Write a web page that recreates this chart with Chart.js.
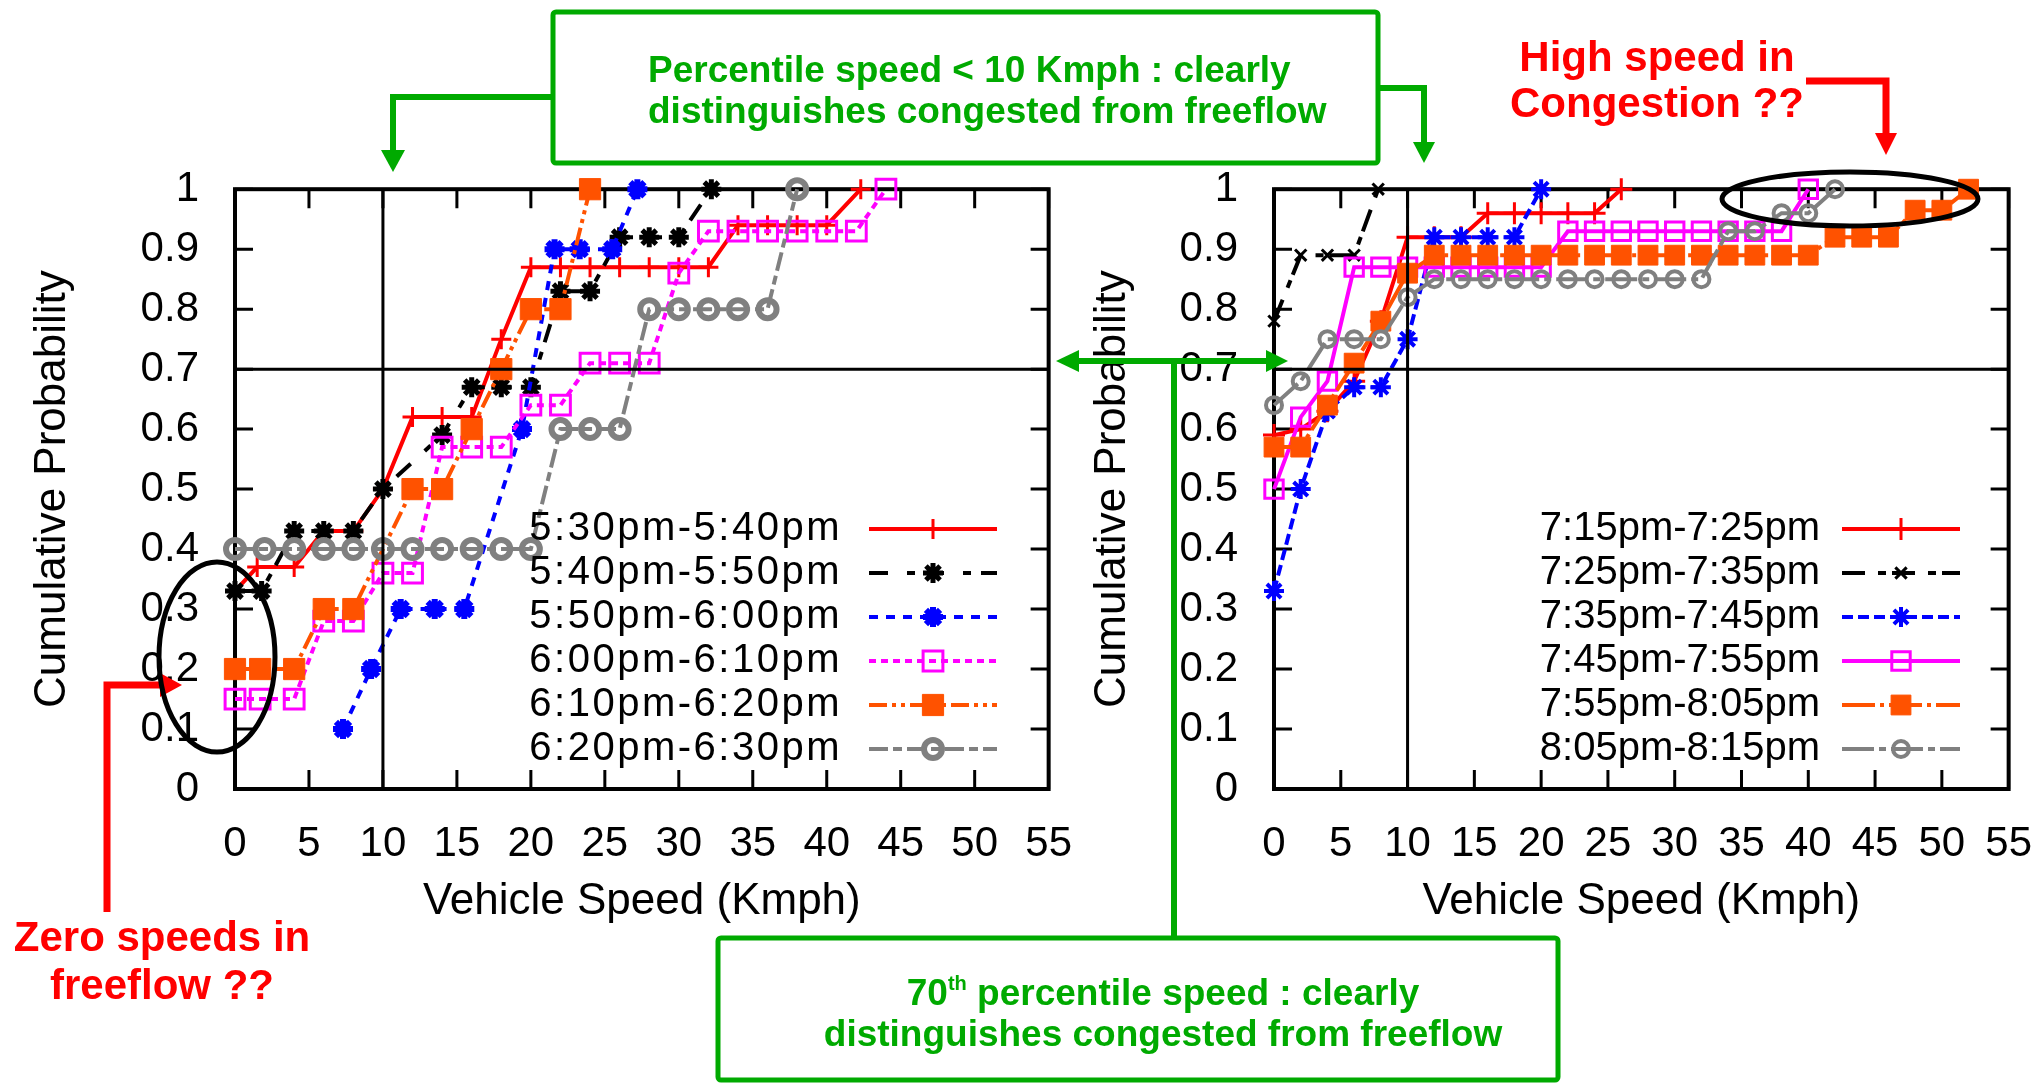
<!DOCTYPE html>
<html>
<head>
<meta charset="utf-8">
<script src="https://cdn.jsdelivr.net/npm/chart.js@4.4.1/dist/chart.umd.min.js"></script>
<style>
  body { margin: 0; background: #fff; width: 2039px; height: 1083px; overflow: hidden; position: relative;
         font-family: 'Liberation Sans', Arial, sans-serif; }
  canvas { position: absolute; }
  #leftChart { left: 0; top: 136px; }
  #rightChart { left: 1060px; top: 136px; }
  svg { position: absolute; left: 0; top: 0; }
  .note { position: absolute; font-weight: bold; white-space: nowrap; }
  .green { color: #00aa00; font-size: 37px; line-height: 41px; }
  .red { color: #ff0000; font-size: 42px; text-align: center; width: 400px; }
  sup { font-size: 20px; vertical-align: 15px; line-height: 0; }
</style>
</head>
<body>
<canvas id="leftChart" width="1094" height="800"></canvas>
<canvas id="rightChart" width="994" height="800"></canvas>

<svg width="2039" height="1083">
  <g fill="none" stroke="#00aa00" stroke-width="5">
    <rect x="553" y="12" width="825" height="151" rx="3"/>
    <rect x="718" y="938" width="840" height="142" rx="3"/>
  </g>
  <g fill="none" stroke="#00aa00" stroke-width="6" stroke-linejoin="miter">
    <polyline points="553,97 393,97 393,152"/>
    <polyline points="1378,88 1424,88 1424,144"/>
    <line x1="1174" y1="938" x2="1174" y2="361"/>
    <line x1="1076" y1="361" x2="1268" y2="361"/>
  </g>
  <g fill="#00aa00">
    <polygon points="381,150 405,150 393,172"/>
    <polygon points="1413,142 1435,142 1424,163"/>
    <polygon points="1056,361 1079,350 1079,372"/>
    <polygon points="1288,361 1266,350 1266,372"/>
  </g>
  <g fill="none" stroke="#ff0000" stroke-width="7">
    <polyline points="107,912 107,685 162,685"/>
    <polyline points="1806,81 1886,81 1886,135"/>
  </g>
  <g fill="#ff0000">
    <polygon points="160,673 160,697 182,685"/>
    <polygon points="1875,133 1897,133 1886,155"/>
  </g>
  <g fill="none" stroke="#000" stroke-width="5">
    <ellipse cx="217" cy="657" rx="58" ry="95"/>
    <ellipse cx="1850" cy="199" rx="128" ry="27"/>
  </g>
</svg>

<div class="note green" style="left:648px;top:49px;">Percentile speed &lt; 10 Kmph : clearly<br>distinguishes congested from freeflow</div>
<div class="note green" style="left:763px;top:972px;width:800px;text-align:center;">70<sup>th</sup> percentile speed : clearly<br>distinguishes congested from freeflow</div>
<div class="note red" style="left:1457px;top:34px;line-height:46px;">High speed in<br>Congestion ??</div>
<div class="note red" style="left:-38px;top:913px;line-height:48px;">Zero speeds in<br>freeflow ??</div>

<script>
// left panel: 5:30pm - 6:30pm
const leftLabels = ['5:30pm-5:40pm', '5:40pm-5:50pm', '5:50pm-6:00pm', '6:00pm-6:10pm', '6:10pm-6:20pm', '6:20pm-6:30pm'];
const l1x = [0, 1.5, 4, 6, 8, 10, 12, 14, 16, 18, 20, 22, 24, 26, 28, 30, 32, 34, 36, 38, 40, 42.3];
const l1y = [0.33, 0.37, 0.37, 0.43, 0.43, 0.5, 0.62, 0.62, 0.62, 0.75, 0.87, 0.87, 0.87, 0.87, 0.87, 0.87, 0.87, 0.94, 0.94, 0.94, 0.94, 1.0];
const l2x = [0, 1.8, 4, 6, 8, 10, 14, 16, 18, 20, 22, 24, 26, 28, 30, 32.2];
const l2y = [0.33, 0.33, 0.43, 0.43, 0.43, 0.5, 0.59, 0.67, 0.67, 0.67, 0.83, 0.83, 0.92, 0.92, 0.92, 1.0];
const l3x = [7.3, 9.2, 11.2, 13.5, 15.5, 19.4, 21.6, 23.3, 25.5, 27.2];
const l3y = [0.1, 0.2, 0.3, 0.3, 0.3, 0.6, 0.9, 0.9, 0.9, 1.0];
const l4x = [0, 1.7, 4, 6, 8, 10, 12, 14, 16, 18, 20, 22, 24, 26, 28, 30, 32, 34, 36, 38, 40, 42, 44];
const l4y = [0.15, 0.15, 0.15, 0.28, 0.28, 0.36, 0.36, 0.57, 0.57, 0.57, 0.64, 0.64, 0.71, 0.71, 0.71, 0.86, 0.93, 0.93, 0.93, 0.93, 0.93, 0.93, 1.0];
const l5x = [0, 1.7, 4, 6, 8, 12, 14, 16, 18, 20, 22, 24];
const l5y = [0.2, 0.2, 0.2, 0.3, 0.3, 0.5, 0.5, 0.6, 0.7, 0.8, 0.8, 1.0];
const l6x = [0, 2, 4, 6, 8, 10, 12, 14, 16, 18, 20, 22, 24, 26, 28, 30, 32, 34, 36, 38];
const l6y = [0.4, 0.4, 0.4, 0.4, 0.4, 0.4, 0.4, 0.4, 0.4, 0.4, 0.4, 0.6, 0.6, 0.6, 0.8, 0.8, 0.8, 0.8, 0.8, 1.0];

// right panel: 7:15pm - 8:15pm
const rightLabels = ['7:15pm-7:25pm', '7:25pm-7:35pm', '7:35pm-7:45pm', '7:45pm-7:55pm', '7:55pm-8:05pm', '8:05pm-8:15pm'];
const r1x = [0, 2, 4, 6, 8, 10, 12, 14, 16, 18, 20, 22, 24, 26];
const r1y = [0.59, 0.6, 0.63, 0.68, 0.78, 0.92, 0.92, 0.92, 0.96, 0.96, 0.96, 0.96, 0.96, 1.0];
const r2x = [0, 2, 4, 6, 7.8];
const r2y = [0.78, 0.89, 0.89, 0.89, 1.0];
const r3x = [0, 2, 4, 6, 8, 10, 12, 14, 16, 18, 20];
const r3y = [0.33, 0.5, 0.63, 0.67, 0.67, 0.75, 0.92, 0.92, 0.92, 0.92, 1.0];
const r4x = [0, 2, 4, 6, 8, 10, 12, 14, 16, 18, 20, 22, 24, 26, 28, 30, 32, 34, 36, 38, 40];
const r4y = [0.5, 0.62, 0.68, 0.87, 0.87, 0.87, 0.87, 0.87, 0.87, 0.87, 0.87, 0.93, 0.93, 0.93, 0.93, 0.93, 0.93, 0.93, 0.93, 0.93, 1.0];
const r5x = [0, 2, 4, 6, 8, 10, 12, 14, 16, 18, 20, 22, 24, 26, 28, 30, 32, 34, 36, 38, 40, 42, 44, 46, 48, 50, 52];
const r5y = [0.57, 0.57, 0.64, 0.71, 0.78, 0.86, 0.89, 0.89, 0.89, 0.89, 0.89, 0.89, 0.89, 0.89, 0.89, 0.89, 0.89, 0.89, 0.89, 0.89, 0.89, 0.92, 0.92, 0.92, 0.965, 0.965, 1.0];
const r6x = [0, 2, 4, 6, 8, 10, 12, 14, 16, 18, 20, 22, 24, 26, 28, 30, 32, 34, 36, 38, 40, 42];
const r6y = [0.64, 0.68, 0.75, 0.75, 0.75, 0.82, 0.85, 0.85, 0.85, 0.85, 0.85, 0.85, 0.85, 0.85, 0.85, 0.85, 0.85, 0.93, 0.93, 0.96, 0.96, 1.0];

const xTicks = [0, 5, 10, 15, 20, 25, 30, 35, 40, 45, 50, 55];

Chart.defaults.font.family = "'Liberation Sans', Arial, sans-serif";
Chart.defaults.color = '#000';

function pts(xs, ys) {
    return xs.map((x, i) => ({ x: x, y: ys[i] }));
}

function series(label, xs, ys, color, dash, style, radius, pbw, filled, order) {
    return {
        label: label,
        data: pts(xs, ys),
        borderColor: color,
        borderWidth: 4,
        borderDash: dash,
        pointStyle: style,
        pointRadius: radius,
        pointBorderWidth: pbw,
        pointBorderColor: color,
        pointBackgroundColor: filled ? color : 'rgba(0,0,0,0)',
        tension: 0,
        clip: false,
        order: order
    };
}

// frame, inward ticks and the two reference lines (x = 10, y = 0.7)
const framePlugin = {
    id: 'frame',
    beforeDatasetsDraw(chart) {
        const { ctx, chartArea: a, scales: { x, y } } = chart;
        ctx.save();
        ctx.strokeStyle = '#000';
        ctx.lineWidth = 3;
        ctx.beginPath();
        x.ticks.forEach(t => {
            const px = x.getPixelForValue(t.value);
            ctx.moveTo(px, a.bottom); ctx.lineTo(px, a.bottom - 19);
            ctx.moveTo(px, a.top); ctx.lineTo(px, a.top + 19);
        });
        y.ticks.forEach(t => {
            const py = y.getPixelForValue(t.value);
            ctx.moveTo(a.left, py); ctx.lineTo(a.left + 18, py);
            ctx.moveTo(a.right, py); ctx.lineTo(a.right - 18, py);
        });
        ctx.stroke();
        ctx.lineWidth = 4;
        ctx.strokeRect(a.left, a.top, a.width, a.height);
        ctx.restore();
    },
    afterDatasetsDraw(chart) {
        const { ctx, chartArea: a, scales: { x, y } } = chart;
        ctx.save();
        ctx.strokeStyle = '#000';
        ctx.lineWidth = 3;
        const px = x.getPixelForValue(10);
        const py = y.getPixelForValue(0.7);
        ctx.beginPath();
        ctx.moveTo(px, a.top); ctx.lineTo(px, a.bottom);
        ctx.moveTo(a.left, py); ctx.lineTo(a.right, py);
        ctx.stroke();
        ctx.restore();
    }
};

// gnuplot style key: text first, sample line with marker after it
const keyPlugin = {
    id: 'key',
    afterDatasetsDraw(chart, args, opts) {
        const ctx = chart.ctx;
        ctx.save();
        chart.data.datasets.forEach((ds, i) => {
            const yy = opts.top + i * opts.step;
            ctx.font = "40px 'Liberation Sans', Arial, sans-serif";
            ctx.letterSpacing = opts.spacing;
            ctx.textAlign = 'right';
            ctx.textBaseline = 'middle';
            ctx.fillStyle = '#000';
            ctx.fillText(ds.label, opts.textRight, yy);
            ctx.letterSpacing = '0px';
            ctx.strokeStyle = ds.borderColor;
            ctx.lineWidth = ds.borderWidth;
            ctx.setLineDash(ds.borderDash);
            ctx.beginPath();
            ctx.moveTo(opts.x1, yy);
            ctx.lineTo(opts.x2, yy);
            ctx.stroke();
            ctx.setLineDash([]);
            ctx.lineWidth = ds.pointBorderWidth;
            ctx.fillStyle = ds.pointBackgroundColor;
            Chart.helpers.drawPoint(ctx, {
                pointStyle: ds.pointStyle, radius: ds.pointRadius,
                borderWidth: ds.pointBorderWidth, rotation: 0
            }, (opts.x1 + opts.x2) / 2, yy);
        });
        ctx.restore();
    }
};

function makeChart(id, datasets, yWidth, key) {
    return new Chart(document.getElementById(id), {
        type: 'line',
        data: { datasets: datasets },
        options: {
            responsive: false,
            animation: false,
            devicePixelRatio: 1,
            layout: { padding: 0 },
            plugins: { legend: { display: false }, tooltip: { enabled: false }, key: key },
            scales: {
                x: {
                    type: 'linear', min: 0, max: 55,
                    afterBuildTicks: s => { s.ticks = xTicks.map(v => ({ value: v })); },
                    ticks: { font: { size: 42 }, padding: 22, autoSkip: false, maxRotation: 0 },
                    grid: { display: false }, border: { display: false },
                    title: { display: true, text: 'Vehicle Speed (Kmph)', font: { size: 44 }, padding: { top: 0, bottom: 8 } },
                    afterFit: s => { s.height = 147; }
                },
                y: {
                    min: 0, max: 1,
                    ticks: { stepSize: 0.1, font: { size: 42 }, padding: 28, autoSkip: false,
                             callback: v => String(+v.toFixed(1)) },
                    grid: { display: false }, border: { display: false },
                    title: { display: true, text: 'Cumulative Probability', font: { size: 44 }, padding: { top: 26, bottom: 0 } },
                    afterFit: s => { s.width = yWidth; }
                }
            }
        },
        plugins: [framePlugin, keyPlugin]
    });
}

const leftSets = [
    series(leftLabels[0], l1x, l1y, '#ff0000', [], 'cross', 10, 3, false, 6),
    series(leftLabels[1], l2x, l2y, '#000000', [19, 19, 8, 10], 'star', 10, 5, false, 5),
    series(leftLabels[2], l3x, l3y, '#0000ff', [9, 8], 'star', 10, 6, true, 4),
    series(leftLabels[3], l4x, l4y, '#ff00ff', [7, 5], 'rect', 14, 3, false, 3),
    series(leftLabels[4], l5x, l5y, '#ff5200', [18, 5, 4, 5, 4, 5], 'rect', 15, 1, true, 2),
    series(leftLabels[5], l6x, l6y, '#808080', [19, 5, 9, 5], 'circle', 9, 6, false, 1)
];

const rightSets = [
    series(rightLabels[0], r1x, r1y, '#ff0000', [], 'cross', 11, 3, false, 6),
    series(rightLabels[1], r2x, r2y, '#000000', [23, 13, 8, 6], 'crossRot', 8, 3, false, 5),
    series(rightLabels[2], r3x, r3y, '#0000ff', [11, 5], 'star', 10, 4, false, 4),
    series(rightLabels[3], r4x, r4y, '#ff00ff', [], 'rect', 13, 3, false, 3),
    series(rightLabels[4], r5x, r5y, '#ff5200', [33, 5, 4, 5], 'rect', 14, 1, true, 2),
    series(rightLabels[5], r6x, r6y, '#808080', [32, 5, 7, 5], 'circle', 8, 4, false, 1)
];

makeChart('leftChart', leftSets, 235, { top: 393, step: 44, textRight: 842, x1: 869, x2: 997, spacing: '2.5px' });
makeChart('rightChart', rightSets, 214, { top: 393, step: 44, textRight: 760, x1: 782, x2: 900, spacing: '0px' });
</script>
</body>
</html>
